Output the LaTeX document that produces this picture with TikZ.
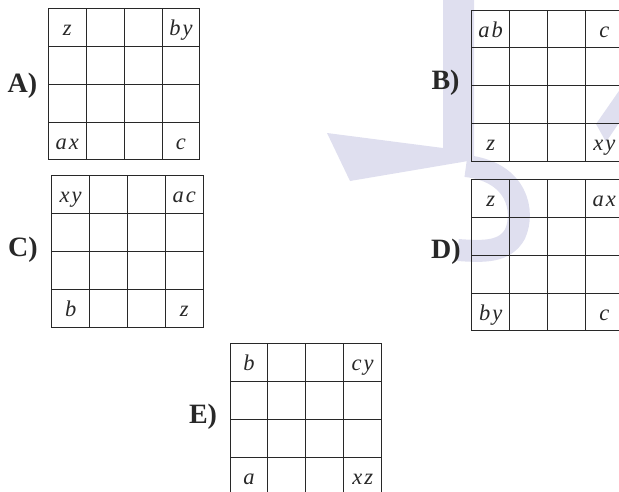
\documentclass[tikz,border=0pt]{standalone}
\usepackage{fontspec}
\setmainfont{Liberation Serif}
\definecolor{wmcol}{RGB}{223,223,239}
\definecolor{linecol}{RGB}{40,40,40}
\tikzset{
  gridline/.style={draw=linecol, line width=1pt, line cap=rect},
  celltext/.style={font=\fontsize{22.5}{22.5}\selectfont\itshape, text=linecol, anchor=base, inner sep=0pt},
  labeltext/.style={font=\fontsize{28}{28}\selectfont\bfseries, text=linecol, inner sep=0pt},
  wmfill/.style={fill=wmcol, draw=none},
  wmline/.style={draw=wmcol, line width=22pt}
}
\newcommand\lt[2]{#1\kern2pt#2}
\newcommand\kgrid[8]{%
  \begin{scope}[shift={(#2,#3)}]
    \foreach \i in {0,...,4} {
      \draw[gridline] (\i*37.9,0) -- (\i*37.9,151.6);
      \draw[gridline] (0,\i*37.9) -- (151.6,\i*37.9);
    }
    \node[celltext] (#1tl) at (18.95,27) {#5};
    \node[celltext] (#1tr) at (132.65,27) {#6};
    \node[celltext] (#1bl) at (18.95,140.7) {#7};
    \node[celltext] (#1br) at (132.65,140.7) {#8};
  \end{scope}
  \node[labeltext] (#1lab) at (#4) {#1)};
}
\begin{document}
\begin{tikzpicture}[x=1pt,y=-1pt]
  \useasboundingbox (0,0) rectangle (619,491);
  \clip (0,0) rectangle (619,491);
  % watermark
  \fill[wmfill] (443,-2) -- (474,-2) -- (474,160) -- (350,181) -- (327,133) -- (443,148) -- cycle;
  \draw[wmline] (466,166) .. controls (518,172) and (525,212) .. (515,234)
                 .. controls (505,252) and (485,252) .. (458,250);
  \fill[wmfill] (621,88) -- (621,120) -- (606,142) -- (596,124) -- cycle;
  % grids
  \kgrid{A}{48.3}{8.3}{22.5,86}{z}{\lt by}{\lt ax}{c}
  \kgrid{B}{471.7}{10}{445.5,83}{\lt ab}{c}{z}{\lt xy}
  \kgrid{C}{51.7}{175.7}{23,250}{\lt xy}{\lt ac}{b}{z}
  \kgrid{D}{471.7}{179.3}{446,251.5}{z}{\lt ax}{\lt by}{c}
  \kgrid{E}{230}{343.3}{203,416.7}{b}{\lt cy}{a}{\lt xz}
\end{tikzpicture}
\end{document}
